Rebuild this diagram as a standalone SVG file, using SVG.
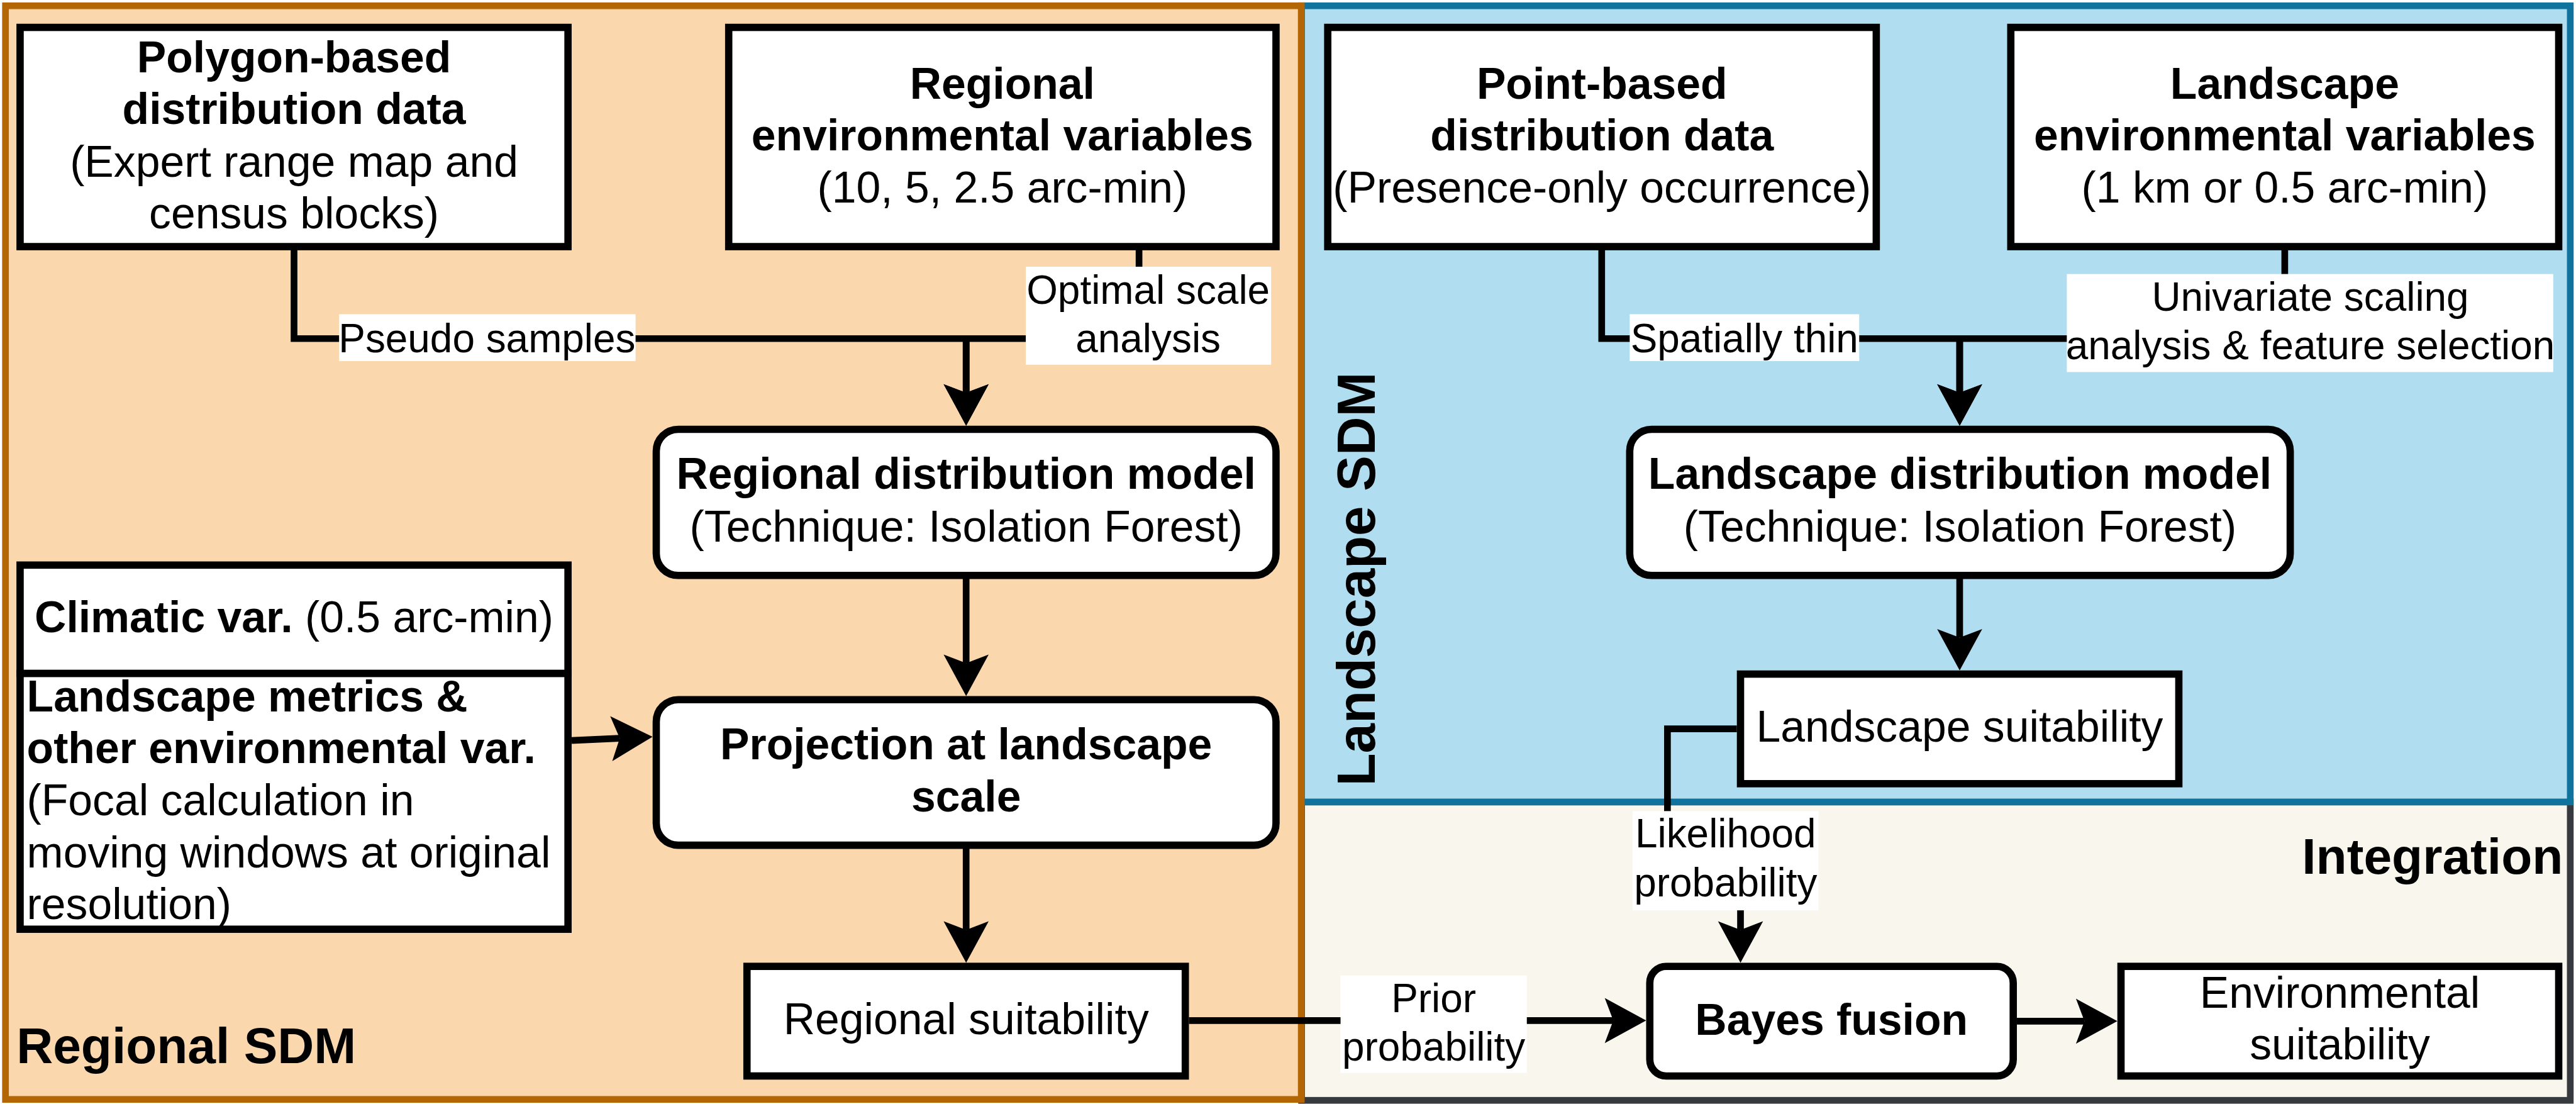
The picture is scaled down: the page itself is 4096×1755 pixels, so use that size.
<svg xmlns="http://www.w3.org/2000/svg" width="4096" height="1755" viewBox="0 0 4096 1755">
<defs>
<style>
.t{font-family:"Liberation Sans",Arial,Helvetica,sans-serif;fill:#000}
.b{font-weight:bold}
.n{font-weight:normal}
.c{text-anchor:middle}
.f72{font-size:72px}
.f66{font-size:66px}
.box{fill:#fff;stroke:#000;stroke-width:12}
.edge{fill:none;stroke:#000;stroke-width:11;stroke-linejoin:miter}
.lbl{fill:#fff;stroke:none}
</style>
<marker id="arr" markerUnits="userSpaceOnUse" orient="auto" refX="0" refY="0" markerWidth="80" markerHeight="80" viewBox="-20 -40 80 80" overflow="visible">
<path d="M54,0 L-14,-37 L0,0 L-14,37 Z" fill="#000"/>
</marker>
</defs>
<g transform="scale(0.968)">
<g id="panels">
<g id="integration-panel">
<rect x="2138" y="1317" width="2084" height="490" fill="#f9f7ed" stroke="#36393d" stroke-width="11"/>
<text class="t b" x="4210" y="1435" font-size="83" text-anchor="end">Integration</text>
</g>
<g id="landscape-panel">
<rect x="2138" y="9.5" width="2084" height="1307.5" fill="#b1ddf0" stroke="#10739e" stroke-width="11"/>
<text class="t b c" x="2258" y="951" font-size="88" transform="rotate(-90 2258 951)">Landscape SDM</text>
</g>
<g id="regional-panel">
<rect x="9" y="9.5" width="2128.5" height="1796" fill="#fad7ac" stroke="#b46504" stroke-width="11"/>
<text class="t b" x="27" y="1746" font-size="83">Regional SDM</text>
</g>
</g>
<g id="connectors">
<path class="edge" d="M483 410 V556 H1587 V645" marker-end="url(#arr)"/>
<path class="edge" d="M1871 410 V556 H1587 V645" marker-end="url(#arr)"/>
<path class="edge" d="M1587 950 V1089" marker-end="url(#arr)"/>
<path class="edge" d="M1587 1393 V1527" marker-end="url(#arr)"/>
<path class="edge" d="M939 1216 L1018 1212.4" marker-end="url(#arr)"/>
<path class="edge" d="M1953 1676 H2650" marker-end="url(#arr)"/>
<path class="edge" d="M3313 1677 H3424" marker-end="url(#arr)"/>
<path class="edge" d="M2631 410 V556 H3219 V645" marker-end="url(#arr)"/>
<path class="edge" d="M3753 410 V556 H3219 V645" marker-end="url(#arr)"/>
<path class="edge" d="M3219 950 V1047" marker-end="url(#arr)"/>
<path class="edge" d="M2853 1197 H2739 V1413 H2859 V1527" marker-end="url(#arr)"/>
<g id="edge-labels">
<rect class="lbl" x="557" y="516" width="487" height="77"/>
<text class="t c f66" x="800" y="578">Pseudo samples</text>
<rect class="lbl" x="1685" y="438" width="403" height="161"/>
<text class="t c f66" x="1886" y="499">Optimal scale</text>
<text class="t c f66" x="1886" y="578">analysis</text>
<rect class="lbl" x="2677" y="516" width="377" height="77"/>
<text class="t c f66" x="2865.5" y="578">Spatially thin</text>
<rect class="lbl" x="3395" y="450" width="799" height="161"/>
<text class="t c f66" x="3795" y="510">Univariate scaling</text>
<text class="t c f66" x="3795" y="590">analysis &amp; feature selection</text>
<rect class="lbl" x="2682" y="1332" width="305" height="163"/>
<text class="t c f66" x="2834.5" y="1392">Likelihood</text>
<text class="t c f66" x="2834.5" y="1472">probability</text>
<rect class="lbl" x="2202" y="1602" width="306" height="160"/>
<text class="t c f66" x="2355" y="1662">Prior</text>
<text class="t c f66" x="2355" y="1742">probability</text>
</g>
</g>
<g id="node-polygon">
<rect class="box" x="33" y="45" width="900" height="360"/>
<text class="t c f72" x="483"><tspan class="b" x="483" y="119">Polygon-based</tspan><tspan class="b" x="483" y="204">distribution data</tspan><tspan x="483" y="290">(Expert range map and</tspan><tspan x="483" y="375">census blocks)</tspan></text>
</g>
<g id="node-regional-env">
<rect class="box" x="1197" y="45" width="899" height="360"/>
<text class="t c f72"><tspan class="b" x="1646.5" y="162">Regional</tspan><tspan class="b" x="1646.5" y="247">environmental variables</tspan><tspan x="1646.5" y="333">(10, 5, 2.5 arc-min)</tspan></text>
</g>
<g id="node-point">
<rect class="box" x="2181" y="45" width="901" height="360"/>
<text class="t c f72"><tspan class="b" x="2631.5" y="162">Point-based</tspan><tspan class="b" x="2631.5" y="247">distribution data</tspan><tspan x="2631.5" y="333">(Presence-only occurrence)</tspan></text>
</g>
<g id="node-landscape-env">
<rect class="box" x="3303" y="45" width="900" height="360"/>
<text class="t c f72"><tspan class="b" x="3753" y="162">Landscape</tspan><tspan class="b" x="3753" y="247">environmental variables</tspan><tspan x="3753" y="333">(1 km or 0.5 arc-min)</tspan></text>
</g>
<g id="node-regional-model">
<rect class="box" x="1078" y="705" width="1018" height="240" rx="36"/>
<text class="t c f72"><tspan class="b" x="1587" y="803">Regional distribution model</tspan><tspan x="1587" y="889">(Technique: Isolation Forest)</tspan></text>
</g>
<g id="node-projection">
<rect class="box" x="1078" y="1149" width="1018" height="239" rx="36"/>
<text class="t c f72 b"><tspan x="1587" y="1247">Projection at landscape</tspan><tspan x="1587" y="1333">scale</tspan></text>
</g>
<g id="node-regional-suit">
<rect class="box" x="1227" y="1587" width="720" height="180"/>
<text class="t c f72" x="1587" y="1698">Regional suitability</text>
</g>
<g id="node-climatic">
<rect class="box" x="33" y="928" width="900" height="178"/>
<text class="t c f72" x="483" y="1038"><tspan class="b">Climatic var.</tspan> (0.5 arc-min)</text>
</g>
<g id="node-landscape-metrics">
<rect class="box" x="33" y="1106" width="900" height="420"/>
<text class="t f72"><tspan class="b" x="44" y="1168">Landscape metrics &amp;</tspan><tspan class="b" x="44" y="1253">other environmental var.</tspan><tspan x="44" y="1339">(Focal calculation in</tspan><tspan x="44" y="1425">moving windows at original</tspan><tspan x="44" y="1509">resolution)</tspan></text>
</g>
<g id="node-landscape-model">
<rect class="box" x="2677" y="705" width="1085" height="240" rx="36"/>
<text class="t c f72"><tspan class="b" x="3219.5" y="803">Landscape distribution model</tspan><tspan x="3219.5" y="889">(Technique: Isolation Forest)</tspan></text>
</g>
<g id="node-landscape-suit">
<rect class="box" x="2859" y="1107" width="720" height="180"/>
<text class="t c f72" x="3219" y="1218">Landscape suitability</text>
</g>
<g id="node-bayes">
<rect class="box" x="2710" y="1587" width="597" height="180" rx="27"/>
<text class="t c f72 b" x="3008.5" y="1699">Bayes fusion</text>
</g>
<g id="node-env-suit">
<rect class="box" x="3484" y="1587" width="719" height="180"/>
<text class="t c f72"><tspan x="3843.5" y="1655">Environmental</tspan><tspan x="3843.5" y="1740">suitability</tspan></text>
</g>
</g>
</svg>
